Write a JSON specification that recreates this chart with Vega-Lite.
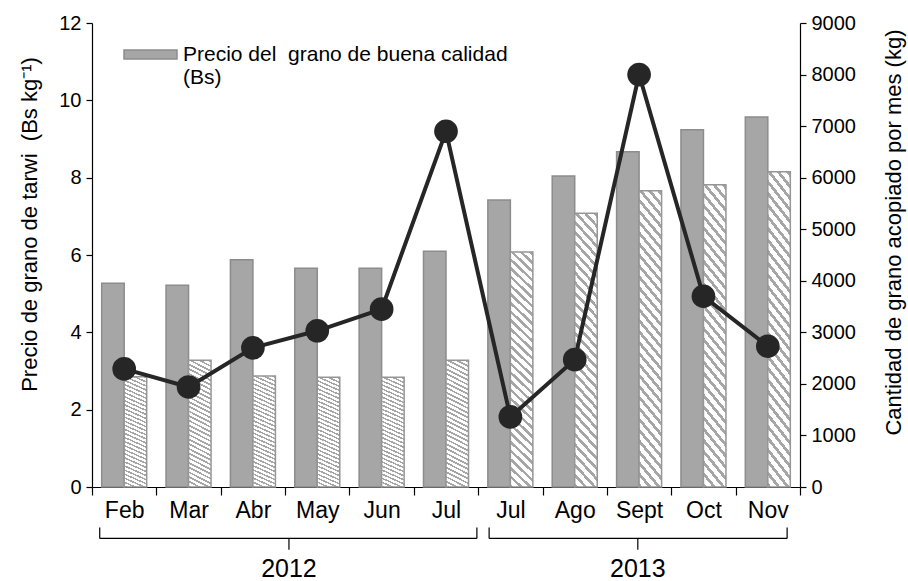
{
  "$schema": "https://vega.github.io/schema/vega-lite/v6.json",
  "width": 708,
  "height": 464,
  "autosize": "none",
  "padding": {"left": 92, "top": 23, "right": 108, "bottom": 94},
  "background": "white",
  "config": {
    "font": "Liberation Sans",
    "view": {"stroke": null},
    "axis": {"grid": false, "domainColor": "#000", "tickColor": "#000", "labelColor": "#000", "titleColor": "#000", "titleFontWeight": "normal", "labelFont": "Liberation Sans", "titleFont": "Liberation Sans"}
  },
  "data": {
    "values": [
      {"clave": "Feb 2012", "buena": 5.27, "otra": 2.85, "cantidad": 2290},
      {"clave": "Mar 2012", "buena": 5.22, "otra": 3.28, "cantidad": 1940},
      {"clave": "Abr 2012", "buena": 5.88, "otra": 2.87, "cantidad": 2700},
      {"clave": "May 2012", "buena": 5.66, "otra": 2.84, "cantidad": 3030},
      {"clave": "Jun 2012", "buena": 5.66, "otra": 2.84, "cantidad": 3450},
      {"clave": "Jul 2012", "buena": 6.10, "otra": 3.28, "cantidad": 6900},
      {"clave": "Jul 2013", "buena": 7.42, "otra": 6.08, "cantidad": 1360},
      {"clave": "Ago 2013", "buena": 8.04, "otra": 7.08, "cantidad": 2470},
      {"clave": "Sept 2013", "buena": 8.67, "otra": 7.66, "cantidad": 8000},
      {"clave": "Oct 2013", "buena": 9.24, "otra": 7.82, "cantidad": 3700},
      {"clave": "Nov 2013", "buena": 9.57, "otra": 8.15, "cantidad": 2730}
    ]
  },
  "layer": [
    {
      "transform": [{"fold": ["buena", "otra"], "as": ["serie", "precio"]}],
      "encoding": {
        "x": {"field": "clave", "type": "nominal", "sort": null,
          "scale": {"paddingInner": 0, "paddingOuter": 0},
          "axis": {"title": null, "labelAngle": 0, "labelExpr": "split(datum.label, ' ')[0]", "labelFontSize": 23, "labelPadding": 4, "tickSize": 8, "tickBand": "extent", "domainWidth": 1.2, "tickWidth": 1.2}},
        "xOffset": {"field": "serie", "type": "nominal", "scale": {"domain": ["buena", "otra"], "paddingInner": 0, "paddingOuter": 0.43}},
        "y": {"field": "precio", "type": "quantitative", "scale": {"domain": [0, 12]},
          "axis": {"orient": "left", "values": [0, 2, 4, 6, 8, 10, 12], "title": "Precio de grano de tarwi \u00a0(Bs kg⁻¹)", "titleFontSize": 22, "titleX": -63, "titleY": 201, "titleAngle": -90, "titleAlign": "center", "titleBaseline": "middle", "labelFontSize": 20, "tickSize": 6, "labelPadding": 5, "domainWidth": 1.2, "tickWidth": 1.2}}
      },
      "layer": [
        {
          "transform": [{"filter": "datum.serie === 'buena'"}],
          "mark": {"type": "bar", "stroke": "#8c8c8c", "strokeWidth": 1.5},
          "encoding": {
            "color": {"field": "serie", "type": "nominal",
              "scale": {"domain": ["buena"], "range": ["#a6a6a6"]},
              "legend": {"orient": "none", "legendX": 31, "legendY": 4, "title": null,
                "labelExpr": "['Precio del \u00a0grano de buena calidad', '(Bs)']",
                "labelFontSize": 21, "labelColor": "#000", "labelLimit": 0, "labelOffset": 5,
                "symbolType": "M-1,-0.17H1V0.17H-1Z", "symbolSize": 2809,
                "symbolStrokeColor": "#8c8c8c", "symbolStrokeWidth": 1.5, "labelBaseline": "middle"}}
          }
        },
        {
          "transform": [{"filter": "datum.serie === 'otra'"}],
          "mark": {"type": "bar", "stroke": "#969696", "strokeWidth": 1.5,
            "fill": {"gradient": "linear", "x1": 0, "y1": 1, "x2": 0.1, "y2": -0.1,
              "stops": [
                {"offset": 0, "color": "#a6a6a6"}, {"offset": 0.0133, "color": "#a6a6a6"}, {"offset": 0.0133, "color": "#ffffff"}, {"offset": 0.0333, "color": "#ffffff"},
                {"offset": 0.0333, "color": "#a6a6a6"}, {"offset": 0.0467, "color": "#a6a6a6"}, {"offset": 0.0467, "color": "#ffffff"}, {"offset": 0.0667, "color": "#ffffff"},
                {"offset": 0.0667, "color": "#a6a6a6"}, {"offset": 0.08, "color": "#a6a6a6"}, {"offset": 0.08, "color": "#ffffff"}, {"offset": 0.1, "color": "#ffffff"},
                {"offset": 0.1, "color": "#a6a6a6"}, {"offset": 0.1133, "color": "#a6a6a6"}, {"offset": 0.1133, "color": "#ffffff"}, {"offset": 0.1333, "color": "#ffffff"},
                {"offset": 0.1333, "color": "#a6a6a6"}, {"offset": 0.1467, "color": "#a6a6a6"}, {"offset": 0.1467, "color": "#ffffff"}, {"offset": 0.1667, "color": "#ffffff"},
                {"offset": 0.1667, "color": "#a6a6a6"}, {"offset": 0.18, "color": "#a6a6a6"}, {"offset": 0.18, "color": "#ffffff"}, {"offset": 0.2, "color": "#ffffff"},
                {"offset": 0.2, "color": "#a6a6a6"}, {"offset": 0.2133, "color": "#a6a6a6"}, {"offset": 0.2133, "color": "#ffffff"}, {"offset": 0.2333, "color": "#ffffff"},
                {"offset": 0.2333, "color": "#a6a6a6"}, {"offset": 0.2467, "color": "#a6a6a6"}, {"offset": 0.2467, "color": "#ffffff"}, {"offset": 0.2667, "color": "#ffffff"},
                {"offset": 0.2667, "color": "#a6a6a6"}, {"offset": 0.28, "color": "#a6a6a6"}, {"offset": 0.28, "color": "#ffffff"}, {"offset": 0.3, "color": "#ffffff"},
                {"offset": 0.3, "color": "#a6a6a6"}, {"offset": 0.3133, "color": "#a6a6a6"}, {"offset": 0.3133, "color": "#ffffff"}, {"offset": 0.3333, "color": "#ffffff"},
                {"offset": 0.3333, "color": "#a6a6a6"}, {"offset": 0.3467, "color": "#a6a6a6"}, {"offset": 0.3467, "color": "#ffffff"}, {"offset": 0.3667, "color": "#ffffff"},
                {"offset": 0.3667, "color": "#a6a6a6"}, {"offset": 0.38, "color": "#a6a6a6"}, {"offset": 0.38, "color": "#ffffff"}, {"offset": 0.4, "color": "#ffffff"},
                {"offset": 0.4, "color": "#a6a6a6"}, {"offset": 0.4133, "color": "#a6a6a6"}, {"offset": 0.4133, "color": "#ffffff"}, {"offset": 0.4333, "color": "#ffffff"},
                {"offset": 0.4333, "color": "#a6a6a6"}, {"offset": 0.4467, "color": "#a6a6a6"}, {"offset": 0.4467, "color": "#ffffff"}, {"offset": 0.4667, "color": "#ffffff"},
                {"offset": 0.4667, "color": "#a6a6a6"}, {"offset": 0.48, "color": "#a6a6a6"}, {"offset": 0.48, "color": "#ffffff"}, {"offset": 0.5, "color": "#ffffff"},
                {"offset": 0.5, "color": "#a6a6a6"}, {"offset": 0.5133, "color": "#a6a6a6"}, {"offset": 0.5133, "color": "#ffffff"}, {"offset": 0.5333, "color": "#ffffff"},
                {"offset": 0.5333, "color": "#a6a6a6"}, {"offset": 0.5467, "color": "#a6a6a6"}, {"offset": 0.5467, "color": "#ffffff"}, {"offset": 0.5667, "color": "#ffffff"},
                {"offset": 0.5667, "color": "#a6a6a6"}, {"offset": 0.58, "color": "#a6a6a6"}, {"offset": 0.58, "color": "#ffffff"}, {"offset": 0.6, "color": "#ffffff"},
                {"offset": 0.6, "color": "#a6a6a6"}, {"offset": 0.6133, "color": "#a6a6a6"}, {"offset": 0.6133, "color": "#ffffff"}, {"offset": 0.6333, "color": "#ffffff"},
                {"offset": 0.6333, "color": "#a6a6a6"}, {"offset": 0.6467, "color": "#a6a6a6"}, {"offset": 0.6467, "color": "#ffffff"}, {"offset": 0.6667, "color": "#ffffff"},
                {"offset": 0.6667, "color": "#a6a6a6"}, {"offset": 0.68, "color": "#a6a6a6"}, {"offset": 0.68, "color": "#ffffff"}, {"offset": 0.7, "color": "#ffffff"},
                {"offset": 0.7, "color": "#a6a6a6"}, {"offset": 0.7133, "color": "#a6a6a6"}, {"offset": 0.7133, "color": "#ffffff"}, {"offset": 0.7333, "color": "#ffffff"},
                {"offset": 0.7333, "color": "#a6a6a6"}, {"offset": 0.7467, "color": "#a6a6a6"}, {"offset": 0.7467, "color": "#ffffff"}, {"offset": 0.7667, "color": "#ffffff"},
                {"offset": 0.7667, "color": "#a6a6a6"}, {"offset": 0.78, "color": "#a6a6a6"}, {"offset": 0.78, "color": "#ffffff"}, {"offset": 0.8, "color": "#ffffff"},
                {"offset": 0.8, "color": "#a6a6a6"}, {"offset": 0.8133, "color": "#a6a6a6"}, {"offset": 0.8133, "color": "#ffffff"}, {"offset": 0.8333, "color": "#ffffff"},
                {"offset": 0.8333, "color": "#a6a6a6"}, {"offset": 0.8467, "color": "#a6a6a6"}, {"offset": 0.8467, "color": "#ffffff"}, {"offset": 0.8667, "color": "#ffffff"},
                {"offset": 0.8667, "color": "#a6a6a6"}, {"offset": 0.88, "color": "#a6a6a6"}, {"offset": 0.88, "color": "#ffffff"}, {"offset": 0.9, "color": "#ffffff"},
                {"offset": 0.9, "color": "#a6a6a6"}, {"offset": 0.9133, "color": "#a6a6a6"}, {"offset": 0.9133, "color": "#ffffff"}, {"offset": 0.9333, "color": "#ffffff"},
                {"offset": 0.9333, "color": "#a6a6a6"}, {"offset": 0.9467, "color": "#a6a6a6"}, {"offset": 0.9467, "color": "#ffffff"}, {"offset": 0.9667, "color": "#ffffff"},
                {"offset": 0.9667, "color": "#a6a6a6"}, {"offset": 0.98, "color": "#a6a6a6"}, {"offset": 0.98, "color": "#ffffff"}, {"offset": 1, "color": "#ffffff"}
              ]}}
        }
      ]
    },
    {
      "encoding": {
        "x": {"field": "clave", "type": "nominal", "sort": null, "scale": {"paddingInner": 0, "paddingOuter": 0}, "axis": null},
        "y": {"field": "cantidad", "type": "quantitative", "scale": {"domain": [0, 9000]},
          "axis": {"orient": "right", "values": [0, 1000, 2000, 3000, 4000, 5000, 6000, 7000, 8000, 9000], "format": "d", "title": "Cantidad de grano acopiado por mes (kg)", "titleFontSize": 22, "titleX": 93, "titleY": 209, "titleAngle": -90, "titleAlign": "center", "titleBaseline": "middle", "labelFontSize": 20, "tickSize": 6, "labelPadding": 5, "domainWidth": 1.2, "tickWidth": 1.2}}
      },
      "layer": [
        {"mark": {"type": "line", "color": "#262626", "strokeWidth": 4}},
        {"mark": {"type": "point", "filled": true, "color": "#262626", "opacity": 1, "size": 560}}
      ]
    },
    {
      "data": {
        "values": [
          {"anio": "2012", "inicio": 0.12, "fin": 5.98, "centro": 3.06},
          {"anio": "2013", "inicio": 6.17, "fin": 10.8, "centro": 8.48}
        ]
      },
      "layer": [
        {"mark": {"type": "rule", "color": "#000", "strokeWidth": 1.2},
          "encoding": {
            "x": {"field": "inicio", "type": "quantitative", "scale": {"domain": [0, 11]}, "axis": null},
            "x2": {"field": "fin"},
            "y": {"datum": -1.33, "type": "quantitative", "scale": {"domain": [0, 12]}, "axis": null}
          }},
        {"mark": {"type": "rule", "color": "#000", "strokeWidth": 1.2},
          "encoding": {
            "x": {"field": "inicio", "type": "quantitative", "scale": {"domain": [0, 11]}, "axis": null},
            "y": {"datum": -1.05, "type": "quantitative", "scale": {"domain": [0, 12]}, "axis": null},
            "y2": {"datum": -1.33}
          }},
        {"mark": {"type": "rule", "color": "#000", "strokeWidth": 1.2},
          "encoding": {
            "x": {"field": "fin", "type": "quantitative", "scale": {"domain": [0, 11]}, "axis": null},
            "y": {"datum": -1.05, "type": "quantitative", "scale": {"domain": [0, 12]}, "axis": null},
            "y2": {"datum": -1.33}
          }},
        {"mark": {"type": "rule", "color": "#000", "strokeWidth": 1.2},
          "encoding": {
            "x": {"field": "centro", "type": "quantitative", "scale": {"domain": [0, 11]}, "axis": null},
            "y": {"datum": -1.33, "type": "quantitative", "scale": {"domain": [0, 12]}, "axis": null},
            "y2": {"datum": -1.62}
          }},
        {"mark": {"type": "text", "color": "#000", "fontSize": 25, "baseline": "middle", "align": "center", "font": "Liberation Sans"},
          "encoding": {
            "x": {"field": "centro", "type": "quantitative", "scale": {"domain": [0, 11]}, "axis": null},
            "y": {"datum": -2.12, "type": "quantitative", "scale": {"domain": [0, 12]}, "axis": null},
            "text": {"field": "anio"}
          }}
      ]
    }
  ],
  "resolve": {"scale": {"x": "independent", "y": "independent"}}
}
